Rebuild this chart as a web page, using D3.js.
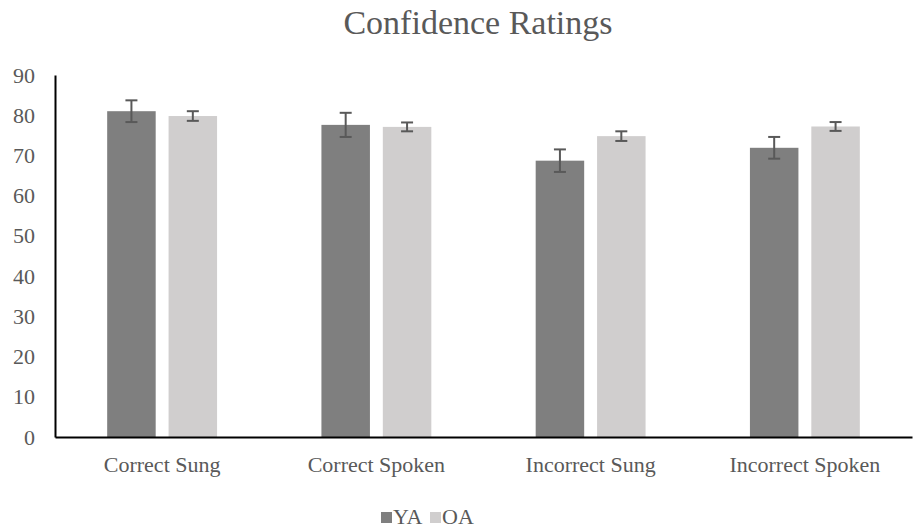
<!DOCTYPE html>
<html>
<head>
<meta charset="utf-8">
<script src="https://cdn.jsdelivr.net/npm/d3@7"></script>
<style>
  body { margin: 0; background: #fff; }
  svg { font-family: "Liberation Serif", "Times New Roman", serif; }
</style>
</head>
<body>
<div id="chart"></div>
<script>
// Confidence ratings, YA vs OA, grouped bars with error bars

const categories = ["Correct Sung", "Correct Spoken", "Incorrect Sung", "Incorrect Spoken"];
const groups = ["YA", "OA"];
const yaValues = [81.0, 77.6, 68.7, 71.9];
const oaValues = [79.8, 77.1, 74.8, 77.2];
const yaErr = [2.7, 3.0, 2.8, 2.7];
const oaErr = [1.2, 1.1, 1.2, 1.1];
const yTicks = [0, 10, 20, 30, 40, 50, 60, 70, 80, 90];
const colors = { YA: "#7f7f7f", OA: "#d0cece" };

const width = 913, height = 531;
const margin = { top: 75, right: 1, bottom: 94, left: 55 };
const font = "Liberation Serif, Times New Roman, serif";

const svg = d3.select("#chart").append("svg")
  .attr("width", width).attr("height", height);

const x = d3.scaleBand().domain(categories)
  .range([margin.left, width - margin.right]).padding(0);
const xi = d3.scaleBand().domain(groups)
  .range([0, x.bandwidth()]).paddingInner(0.21).paddingOuter(0.85);
const y = d3.scaleLinear().domain([0, 90])
  .range([height - margin.bottom, margin.top]);

const rows = categories.map((c, i) => groups.map(g => ({
  cat: c, group: g,
  value: g === "YA" ? yaValues[i] : oaValues[i],
  err: g === "YA" ? yaErr[i] : oaErr[i]
}))).flat();

// title
svg.append("text")
  .attr("x", 478).attr("y", 34)
  .attr("text-anchor", "middle").attr("font-size", 34).attr("fill", "#595959")
  .text("Confidence Ratings");

// bars
svg.append("g").selectAll("rect").data(rows).join("rect")
  .attr("x", d => x(d.cat) + xi(d.group))
  .attr("width", xi.bandwidth())
  .attr("y", d => y(d.value))
  .attr("height", d => y(0) - y(d.value))
  .attr("fill", d => colors[d.group]);

// error bars
const eb = svg.append("g").attr("stroke", "#595959").attr("stroke-width", 2);
const cx = d => x(d.cat) + xi(d.group) + xi.bandwidth() / 2;
eb.selectAll("line.v").data(rows).join("line").attr("class", "v")
  .attr("x1", cx).attr("x2", cx)
  .attr("y1", d => y(d.value + d.err)).attr("y2", d => y(d.value - d.err));
eb.selectAll("line.t").data(rows).join("line").attr("class", "t")
  .attr("x1", d => cx(d) - 6).attr("x2", d => cx(d) + 6)
  .attr("y1", d => y(d.value + d.err)).attr("y2", d => y(d.value + d.err));
eb.selectAll("line.b").data(rows).join("line").attr("class", "b")
  .attr("x1", d => cx(d) - 6).attr("x2", d => cx(d) + 6)
  .attr("y1", d => y(d.value - d.err)).attr("y2", d => y(d.value - d.err));

// y axis
const gY = svg.append("g").attr("transform", `translate(${margin.left},0)`)
  .call(d3.axisLeft(y).tickValues(yTicks).tickSize(0).tickPadding(20));
gY.select(".domain").attr("stroke", "#000").attr("stroke-width", 2);
gY.selectAll("text").attr("font-size", 22).attr("fill", "#595959")
  .attr("font-family", font);

// x axis
const gX = svg.append("g").attr("transform", `translate(0,${y(0)})`)
  .call(d3.axisBottom(x).tickSize(0).tickPadding(19));
gX.select(".domain").attr("stroke", "#000").attr("stroke-width", 2);
gX.selectAll("text").attr("font-size", 22).attr("fill", "#595959")
  .attr("font-family", font);

// legend
const legend = svg.append("g").attr("transform", "translate(381,524)");
const lx = d3.scaleOrdinal().domain(groups).range([0, 49]);
const li = legend.selectAll("g").data(groups).join("g")
  .attr("transform", d => `translate(${lx(d)},0)`);
li.append("rect").attr("x", 0).attr("y", -12).attr("width", 11).attr("height", 11)
  .attr("fill", d => colors[d]);
li.append("text").attr("x", 12).attr("y", 0).attr("font-size", 22)
  .attr("fill", "#595959").text(d => d);
</script>
</body>
</html>
